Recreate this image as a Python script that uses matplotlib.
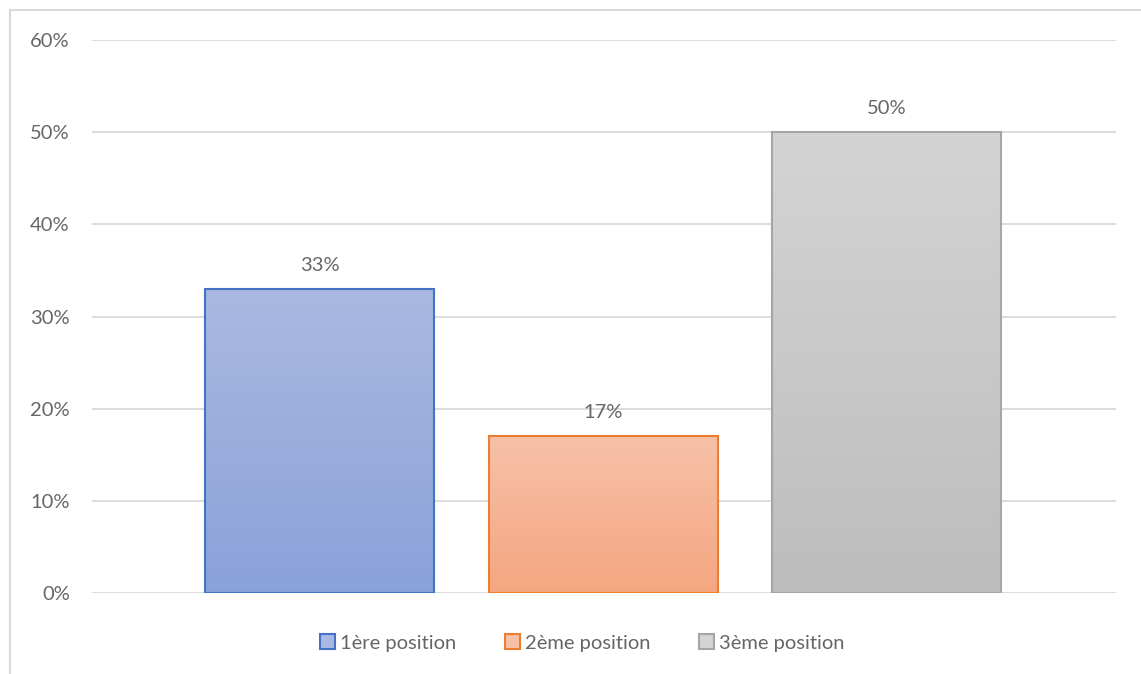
import matplotlib.pyplot as plt
from matplotlib.patches import Rectangle, Patch
from matplotlib.colors import LinearSegmentedColormap
import numpy as np

# données
positions = ['1ère position', '2ème position', '3ème position']
valeurs = [0.33, 0.17, 0.50]
labels = ['33%', '17%', '50%']
yticks = [0.0, 0.1, 0.2, 0.3, 0.4, 0.5, 0.6]

# couleurs (haut, bas, contour)
haut = ['#AAB9E1', '#F7C1A8', '#D4D4D4']
bas = ['#8AA1D9', '#F4A680', '#BDBDBD']
bords = ['#4472C4', '#ED7D31', '#A5A5A5']

plt.rcParams['font.family'] = ['Lato', 'DejaVu Sans']
texte = '#666666'
taille = 14.5

fig = plt.figure(figsize=(11.41, 6.74), dpi=100)
ax = fig.add_axes([92 / 1141, 1 - 593 / 674, (1116 - 92) / 1141, (593 - 40) / 674])

x = np.arange(len(valeurs))
largeur = 0.808
barres = ax.bar(x, valeurs, width=largeur, color='none', edgecolor=bords, linewidth=1.5, zorder=3)

# remplissage en dégradé
for b, h, bs in zip(barres, haut, bas):
    x0, y0 = b.get_x(), b.get_y()
    w, hh = b.get_width(), b.get_height()
    cmap = LinearSegmentedColormap.from_list('g', [bs, h])
    grad = np.linspace(0, 1, 256).reshape(-1, 1)
    im = ax.imshow(grad, cmap=cmap, origin='lower', aspect='auto',
                   extent=[x0, x0 + w, y0, y0 + hh], zorder=2)
    im.set_clip_path(b)

for xi, v, lab in zip(x, valeurs, labels):
    ax.annotate(lab, (xi, v), xytext=(0, 11), textcoords='offset points',
                ha='center', va='bottom', fontsize=taille, color=texte)

ax.set_xlim(-0.804, 2.808)
ax.set_ylim(0, 0.6)
ax.set_yticks(yticks)
ax.set_yticklabels([f'{int(round(t * 100))}%' for t in yticks])
ax.set_xticks([])
ax.tick_params(axis='y', length=0, pad=16, labelsize=taille, labelcolor=texte)
ax.grid(axis='y', color='#D9D9D9', linewidth=1.3, zorder=0)
for s in ax.spines.values():
    s.set_visible(False)

# légende
poignees = [Patch(facecolor=h, edgecolor=e, linewidth=1.5) for h, e in zip(haut, bords)]
fig.legend(poignees, positions, loc='center', bbox_to_anchor=(582 / 1141, 1 - 643 / 674),
           ncol=3, frameon=False, fontsize=taille, labelcolor=texte,
           handlelength=0.75, handleheight=0.75, handletextpad=0.25, columnspacing=2.4)

# cadre du graphique
fig.patches.append(Rectangle((10 / 1141, -0.1), 1.2, 1 - 10 / 674 + 0.1,
                             transform=fig.transFigure, fill=False,
                             edgecolor='#D9D9D9', linewidth=1.5))

fig.savefig('out.png', dpi=100)
